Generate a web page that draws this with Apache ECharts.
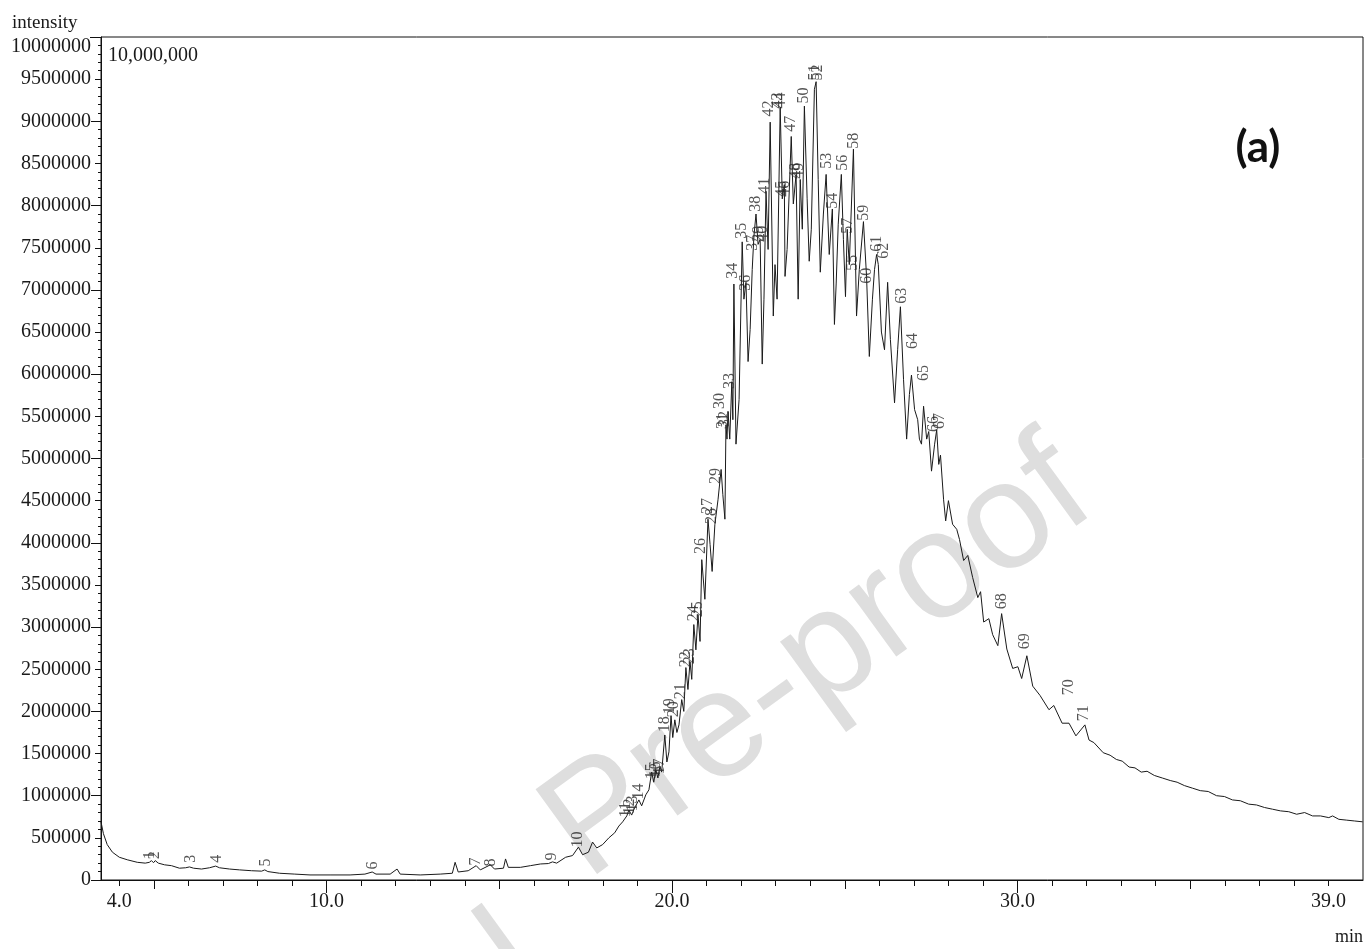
<!DOCTYPE html>
<html>
<head>
<meta charset="utf-8">
<script src="https://cdn.jsdelivr.net/npm/echarts@6/dist/echarts.min.js"></script>
<style>
  html, body { margin: 0; padding: 0; background: #fff; }
  #chromatogram { width: 1366px; height: 949px; }
</style>
</head>
<body>
<div id="chromatogram"></div>
<script>
// retention time (min) , intensity
var baseline = [[3.47,690000],[3.54,550000],[3.65,420000],[3.80,330000],[4.00,270000],[4.23,240000],[4.52,210000],[4.75,200000],[4.87,210000],[4.93,230000],[4.99,205000],[5.04,230000],[5.13,200000],[5.31,180000],[5.51,170000],[5.74,140000],[5.92,145000],[6.03,155000],[6.15,140000],[6.38,130000],[6.61,145000],[6.79,165000],[6.90,145000],[7.19,130000],[7.48,120000],[7.83,110000],[8.12,105000],[8.21,120000],[8.30,100000],[8.64,80000],[9.08,70000],[9.52,60000],[10.10,60000],[10.68,60000],[11.11,70000],[11.32,95000],[11.43,70000],[11.84,70000],[12.04,130000],[12.13,70000],[12.71,60000],[13.29,70000],[13.64,80000],[13.72,210000],[13.81,95000],[14.10,110000],[14.33,170000],[14.45,120000],[14.74,180000],[14.86,130000],[15.12,140000],[15.18,250000],[15.26,150000],[15.61,150000],[15.90,170000],[16.19,190000],[16.42,195000],[16.54,215000],[16.66,200000],[16.92,270000],[17.12,290000]];
var rising = [[17.29,390000],[17.41,300000],[17.58,330000],[17.70,450000],[17.82,380000],[17.99,420000],[18.17,500000],[18.34,560000],[18.46,640000],[18.57,690000],[18.69,760000],[18.75,830000],[18.83,770000],[18.92,860000],[19.04,950000],[19.12,880000],[19.24,1010000],[19.33,1070000],[19.41,1280000],[19.47,1160000],[19.53,1310000],[19.59,1210000],[19.65,1350000],[19.70,1280000],[19.79,1720000],[19.85,1400000],[19.91,1520000],[19.97,1950000],[20.02,1690000],[20.08,1900000],[20.14,1750000],[20.20,1840000],[20.28,2140000],[20.34,2000000],[20.40,2520000],[20.46,2260000],[20.52,2590000],[20.57,2380000],[20.63,3030000],[20.69,2730000],[20.75,3150000],[20.81,2830000],[20.86,3800000],[20.95,3330000],[21.04,4280000],[21.10,3980000],[21.16,3660000],[21.24,4220000],[21.33,4510000],[21.42,4870000],[21.47,4570000],[21.53,4280000]];
var apex = [[21.56,5400000],[21.59,5230000],[21.62,5560000],[21.67,5230000],[21.73,5910000],[21.76,5460000],[21.79,7070000],[21.85,5170000],[21.94,5700000],[22.03,7570000],[22.08,6890000],[22.14,7090000],[22.20,6150000],[22.26,6530000],[22.32,7240000],[22.37,7640000],[22.43,7900000],[22.49,7540000],[22.55,7600000],[22.61,6120000],[22.66,6890000],[22.72,8170000],[22.78,7480000],[22.84,8990000],[22.93,6690000],[22.98,7300000],[23.04,6890000],[23.13,9170000],[23.19,8080000],[23.25,8250000],[23.27,7160000],[23.33,7480000],[23.45,8820000],[23.51,8020000],[23.59,8370000],[23.65,6890000],[23.71,8310000],[23.77,7720000],[23.83,9180000],[23.91,8080000],[23.97,7340000],[24.03,7720000],[24.12,9380000],[24.17,9470000],[24.23,8310000],[24.29,7210000],[24.38,7900000],[24.46,8370000],[24.55,7420000],[24.64,7960000],[24.70,6590000],[24.75,7070000],[24.81,7780000],[24.90,8370000],[24.96,7600000],[25.02,6920000],[25.07,7720000],[25.13,7300000],[25.25,8670000],[25.34,6690000],[25.42,7240000],[25.54,7810000],[25.63,7160000],[25.71,6210000],[25.80,6890000],[25.86,7240000],[25.92,7420000],[25.97,7300000],[26.06,6500000],[26.15,6290000],[26.24,7090000],[26.32,6410000],[26.44,5660000],[26.53,6290000],[26.61,6800000],[26.70,5940000],[26.79,5230000],[26.87,5760000],[26.93,5990000],[27.02,5580000],[27.11,5460000],[27.16,5230000],[27.22,5170000],[27.28,5620000],[27.37,5230000],[27.43,5320000],[27.51,4850000],[27.60,5170000],[27.66,5340000],[27.72,4930000],[27.77,5040000],[27.86,4510000]];
var tail = [[27.92,4260000],[28.00,4500000],[28.12,4220000],[28.24,4160000],[28.32,4040000],[28.44,3790000],[28.56,3850000],[28.70,3590000],[28.85,3350000],[28.93,3420000],[29.02,3060000],[29.17,3100000],[29.28,2910000],[29.43,2780000],[29.54,3160000],[29.69,2740000],[29.86,2510000],[30.01,2530000],[30.12,2390000],[30.27,2660000],[30.44,2300000],[30.65,2190000],[30.91,2020000],[31.05,2070000],[31.29,1860000],[31.49,1860000],[31.69,1710000],[31.95,1840000],[32.07,1660000],[32.21,1630000],[32.48,1510000],[32.68,1480000],[32.86,1430000],[33.03,1410000],[33.23,1340000],[33.40,1330000],[33.58,1280000],[33.75,1290000],[33.96,1240000],[34.19,1210000],[34.42,1180000],[34.62,1160000],[34.83,1120000],[35.06,1090000],[35.29,1060000],[35.52,1050000],[35.76,1000000],[35.99,990000],[36.22,950000],[36.45,940000],[36.69,900000],[36.92,890000],[37.15,860000],[37.38,840000],[37.61,820000],[37.85,810000],[38.08,780000],[38.31,800000],[38.54,760000],[38.77,760000],[39.01,740000],[39.12,760000],[39.30,720000],[39.53,710000],[39.76,700000],[39.99,690000]];

// peak numbers are 1..n, at these times, label foot at these intensities
var peakTimes = [4.87,5.02,6.06,6.82,8.24,11.34,14.33,14.74,16.51,17.27,18.66,18.78,18.86,19.04,19.41,19.53,19.65,19.79,19.94,20.05,20.26,20.40,20.52,20.63,20.75,20.84,21.04,21.16,21.27,21.39,21.47,21.53,21.68,21.76,22.03,22.14,22.35,22.43,22.52,22.64,22.69,22.81,23.07,23.16,23.19,23.27,23.45,23.59,23.68,23.80,24.12,24.23,24.49,24.64,25.22,24.93,25.10,25.25,25.54,25.65,25.94,26.12,26.64,26.96,27.28,27.57,27.74,29.54,30.21,31.49,31.92];
var peakTops = [240000,240000,200000,200000,155000,119000,166000,154000,226000,380000,736000,772000,808000,950000,1188000,1211000,1247000,1746000,1960000,1924000,2138000,2518000,2553000,3064000,3112000,3860000,4335000,4216000,4691000,5582000,5344000,5368000,5819000,7126000,7601000,6983000,7458000,7921000,7565000,7565000,8135000,9050000,9145000,9145000,8099000,8099000,8871000,8313000,8313000,9204000,9477000,9477000,8432000,7957000,7221000,8408000,7660000,8669000,7814000,7066000,7446000,7363000,6829000,6294000,5914000,5309000,5344000,3207000,2731000,2185000,1876000];

var minuteTicks = [4,5,6,7,8,9,10,11,12,13,14,15,16,17,18,19,20,21,22,23,24,25,26,27,28,29,30,31,32,33,34,35,36,37,38,39];
var halfDecadeTicks = [5,15,25,35];
var decadeTicks = [10,20,30];
var timeLabels = [4,10,20,30,39];

var serif = 'Liberation Serif';
var ink = '#111';

var trace = baseline.concat(rising, apex, tail);
var peaks = peakTimes.map(function (t, i) {
  return { value: [t, peakTops[i]], name: String(i + 1) };
});

function extraX(vals, len) {
  return {
    type: 'value', min: 3.47, max: 40, position: 'bottom',
    axisLine: { show: false }, splitLine: { show: false }, axisLabel: { show: false },
    axisTick: { customValues: vals, length: len, lineStyle: { color: ink } }
  };
}

var tilt = 36 * Math.PI / 180;
var chart = echarts.init(document.getElementById('chromatogram'));
var option = {
  animation: false,
  grid: { left: 101, right: 3, top: 37, bottom: 69, show: true, borderColor: ink, borderWidth: 1 },
  xAxis: [{
    type: 'value', min: 3.47, max: 40, position: 'bottom',
    axisLine: { lineStyle: { color: ink } },
    splitLine: { show: false },
    axisTick: { customValues: minuteTicks, length: 6, lineStyle: { color: ink } },
    axisLabel: {
      customValues: timeLabels, margin: 12,
      fontFamily: serif, fontSize: 20, color: '#1a1a1a',
      formatter: function (v) { return v.toFixed(1); }
    }
  }, extraX(halfDecadeTicks, 9), extraX(decadeTicks, 13)],
  yAxis: [{
    type: 'value', min: 0, max: 10000000, interval: 500000, position: 'left',
    axisLine: { show: true, lineStyle: { color: ink } },
    splitLine: { show: false },
    axisTick: { show: true, length: 6, lineStyle: { color: ink } },
    minorTick: { show: true, splitNumber: 5, length: 3, lineStyle: { color: ink } },
    axisLabel: {
      margin: 10, fontFamily: serif, fontSize: 20, color: '#1a1a1a',
      verticalAlignMaxLabel: 'top',
      formatter: function (v) { return String(v); }
    }
  }, {
    type: 'value', min: 0, max: 10000000, interval: 1000000, position: 'left',
    axisLine: { show: false }, splitLine: { show: false }, axisLabel: { show: false },
    axisTick: { show: true, length: 10, lineStyle: { color: ink } }
  }],
  graphic: [
    { type: 'text', z: -10, silent: true, x: 1075, y: 475, rotation: tilt,
      style: { text: 'Pre-proof', fontFamily: 'Liberation Sans', fontSize: 152, fill: '#dedede', align: 'right', verticalAlign: 'middle' } },
    { type: 'text', z: -10, silent: true, x: 530, y: 952, rotation: tilt,
      style: { text: 'Journal', fontFamily: 'Liberation Sans', fontSize: 152, fill: '#dedede', align: 'right', verticalAlign: 'middle' } },
    { type: 'line', shape: { x1: 90, y1: 37.5, x2: 102, y2: 37.5 }, style: { stroke: ink, lineWidth: 1 } },
    { type: 'text', x: 12, y: 23, style: { text: 'intensity', fontFamily: serif, fontSize: 19, fill: '#1a1a1a', verticalAlign: 'middle' } },
    { type: 'text', x: 108, y: 56, style: { text: '10,000,000', fontFamily: serif, fontSize: 20, fill: '#1a1a1a', verticalAlign: 'middle' } },
    { type: 'text', x: 1363, y: 937, style: { text: 'min', fontFamily: serif, fontSize: 18, fill: '#1a1a1a', align: 'right', verticalAlign: 'middle' } },
    { type: 'text', x: 1258, y: 148, style: { text: '(a)', fontFamily: 'Lato', fontWeight: 'bold', fontSize: 44, fill: '#111', align: 'center', verticalAlign: 'middle' } }
  ],
  series: [{
    type: 'line', data: trace, showSymbol: false, symbol: 'none', z: 2,
    lineStyle: { color: '#1a1a1a', width: 1 }
  }, {
    type: 'scatter', data: peaks, symbolSize: 1, silent: true, z: 3,
    itemStyle: { color: 'rgba(0,0,0,0)' },
    label: {
      show: true, position: 'top', distance: 0, rotate: 90,
      align: 'left', verticalAlign: 'middle',
      fontFamily: serif, fontSize: 16, color: '#2a2a2a',
      formatter: '{b}'
    }
  }]
};
chart.setOption(option);
window.addEventListener('resize', chart.resize);
</script>
</body>
</html>
